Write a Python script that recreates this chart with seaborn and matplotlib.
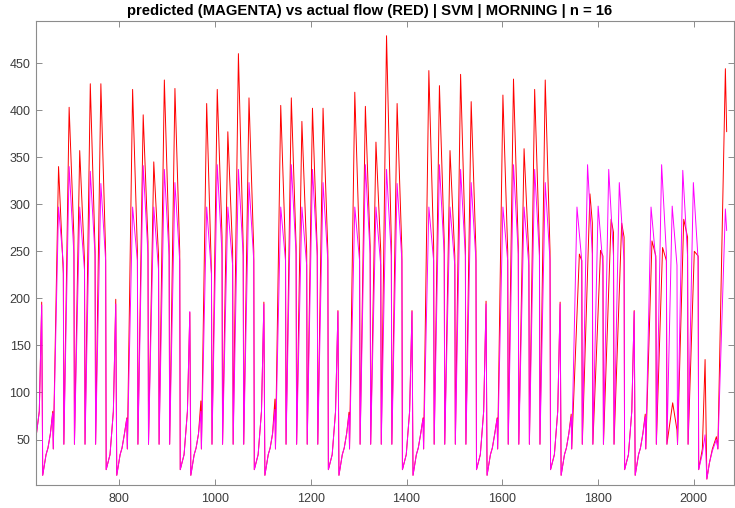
import matplotlib
matplotlib.use("Agg")
import matplotlib.pyplot as plt
import numpy as np
import pandas as pd
import seaborn as sns

# ---------------- data ----------------
# sample index where the first (partial) Sunday begins, and samples per day
FIRST_SUNDAY = 640.0
DAY_LEN = 22.1

# Saturday end-of-morning peaks (first value = partial Saturday before week 0)
sat_red = [196, 199, 185, 196, 187, 187, 197, 196, 187]
sat_mag = [193, 194, 186, 194, 186, 186, 194, 194, 186]
# Sunday peaks
sun_red = [80, 73, 91, 93, 79, 73, 73, 77, 77]
sun_mag = [78, 72, 80, 82, 76, 72, 72, 74, 74]

# weekday (Mon..Fri) peaks of the actual flow, one row per week
wd_red_peak = [
    [340, 403, 357, 428, 428],
    [422, 395, 345, 432, 423],
    [407, 422, 377, 460, 413],
    [405, 413, 388, 402, 402],
    [419, 404, 366, 479, 407],
    [442, 426, 357, 438, 409],
    [416, 433, 359, 422, 432],
    [247, 311, 251, 284, 280],
    [261, 254, 89, 284, 250],
]
# sample offset of the actual-flow peak within the morning window
wd_red_off = [
    [11, 11, 11, 11, 11],
    [11, 11, 11, 11, 11],
    [11, 11, 11, 11, 11],
    [11, 11, 11, 11, 11],
    [11, 11, 11, 11, 11],
    [11, 11, 11, 11, 11],
    [11, 11, 11, 11, 11],
    [16, 16, 16, 16, 16],
    [13, 13, 12, 13, 13],
]
# weekday peaks of the SVM prediction
wd_mag_peak = [
    [297, 340, 297, 335, 322],
    [297, 341, 297, 337, 323],
    [297, 342, 297, 337, 323],
    [297, 342, 297, 337, 323],
    [297, 342, 297, 337, 322],
    [297, 342, 297, 337, 323],
    [297, 342, 297, 337, 323],
    [297, 342, 298, 337, 323],
    [297, 342, 298, 336, 323],
]
# weekday values just before the cut (end of morning window)
wd_red_end = [
    [226, 265, 240, 250, 247],
    [250, 260, 245, 255, 250],
    [226, 265, 250, 255, 250],
    [250, 255, 250, 250, 250],
    [250, 255, 250, 260, 250],
    [255, 260, 245, 255, 250],
    [250, 255, 245, 255, 250],
    [240, 280, 245, 270, 265],
    [245, 240, 60, 265, 245],
]
wd_mag_end = [
    [237, 247, 230, 245, 240],
    [240, 247, 230, 245, 240],
    [226, 247, 235, 245, 240],
    [240, 247, 235, 245, 240],
    [240, 247, 235, 245, 240],
    [240, 247, 235, 245, 240],
    [240, 247, 235, 245, 240],
    [240, 247, 235, 245, 240],
    [240, 247, 235, 245, 240],
]
wd_low = 45          # value right after the overnight cut on weekdays
mon_low = 40
sat_low = [18, 34, 80]          # Saturday values before the peak
sun_low = [12, 34, 41, 56]      # Sunday values before the peak
first_sat = [52, 80]            # partial Saturday at the left edge

# last weekend + final Monday (offsets in samples from the last Saturday start)
tail_off = [0, 7.7, 13.4, 17.1, 22.4, 28.6, 37.0, 40.1, 55.8, 58.5]
tail_red = [18, 40, 135, 8, 25, 40, 53, 40, 444, 377]
tail_mag = [18, 35, 55, 8, 25, 38, 50, 40, 295, 272]

TITLE = "predicted (MAGENTA) vs actual flow (RED) | SVM | MORNING | n = 16"

# ---------------- build the two series ----------------
SAT_OFF = [0, 8, 15, 20]
SUN_OFF = [0, 7, 11, 16, 21]


def build(sat, sun, peak, end, peak_off, tail):
    xs, ys = [], []

    def add(day, offs, vals):
        s = FIRST_SUNDAY + DAY_LEN * day
        for o, v in zip(offs, vals):
            xs.append(s + o)
            ys.append(v)

    add(-1, [8, 15, 20], first_sat + [sat[0]])
    n_weeks = len(peak)
    for w in range(n_weeks):
        add(7 * w, SUN_OFF, sun_low + [sun[w]])
        for k in range(5):
            low = mon_low if k == 0 else wd_low
            po = peak_off[w][k] if peak_off is not None else 11
            add(7 * w + 1 + k, [0, po, 21], [low, peak[w][k], end[w][k]])
        if w < n_weeks - 1:
            add(7 * w + 6, SAT_OFF, sat_low + [sat[w + 1]])
    add(7 * (n_weeks - 1) + 6, tail_off, tail)
    return xs, ys


rx, ry = build(sat_red, sun_red, wd_red_peak, wd_red_end, wd_red_off, tail_red)
mx, my = build(sat_mag, sun_mag, wd_mag_peak, wd_mag_end, None, tail_mag)

df = pd.concat([
    pd.DataFrame({"x": rx, "y": ry, "series": "actual"}),
    pd.DataFrame({"x": mx, "y": my, "series": "predicted"}),
], ignore_index=True)

# ---------------- draw ----------------
sns.set_theme(style="white")
plt.rcParams["font.family"] = ["Liberation Sans", "DejaVu Sans"]

fig = plt.figure(figsize=(7.35, 5.08), dpi=100)
ax = fig.add_axes([36 / 735, 1 - 484.7 / 508, (734 - 36) / 735, (484.7 - 20.7) / 508])

sns.lineplot(data=df, x="x", y="y", hue="series", hue_order=["actual", "predicted"],
             palette={"actual": "#ff0000", "predicted": "#ff00ff"},
             sort=False, estimator=None, legend=False, linewidth=0.7, ax=ax)

ax.set_xlim(626, 2084)
ax.set_ylim(2, 495)
ax.set_xticks([800, 1000, 1200, 1400, 1600, 1800, 2000])
ax.set_yticks([50, 100, 150, 200, 250, 300, 350, 400, 450])
ax.set_xlabel("")
ax.set_ylabel("")
fig.text(369.5 / 735, 1 - 10.5 / 508, TITLE, fontsize=10.7, fontweight="bold",
         color="black", ha="center", va="center")

for sp in ax.spines.values():
    sp.set_visible(True)
    sp.set_color("#8c8c8c")
    sp.set_linewidth(0.8)
ax.tick_params(axis="both", which="both", direction="in", length=4.5, width=0.7,
               color="#8c8c8c", labelcolor="#3c3c3c", labelsize=9,
               top=True, right=True, bottom=True, left=True)
ax.tick_params(axis="x", pad=6)
ax.tick_params(axis="y", pad=4)

fig.savefig("out.png", dpi=100)
